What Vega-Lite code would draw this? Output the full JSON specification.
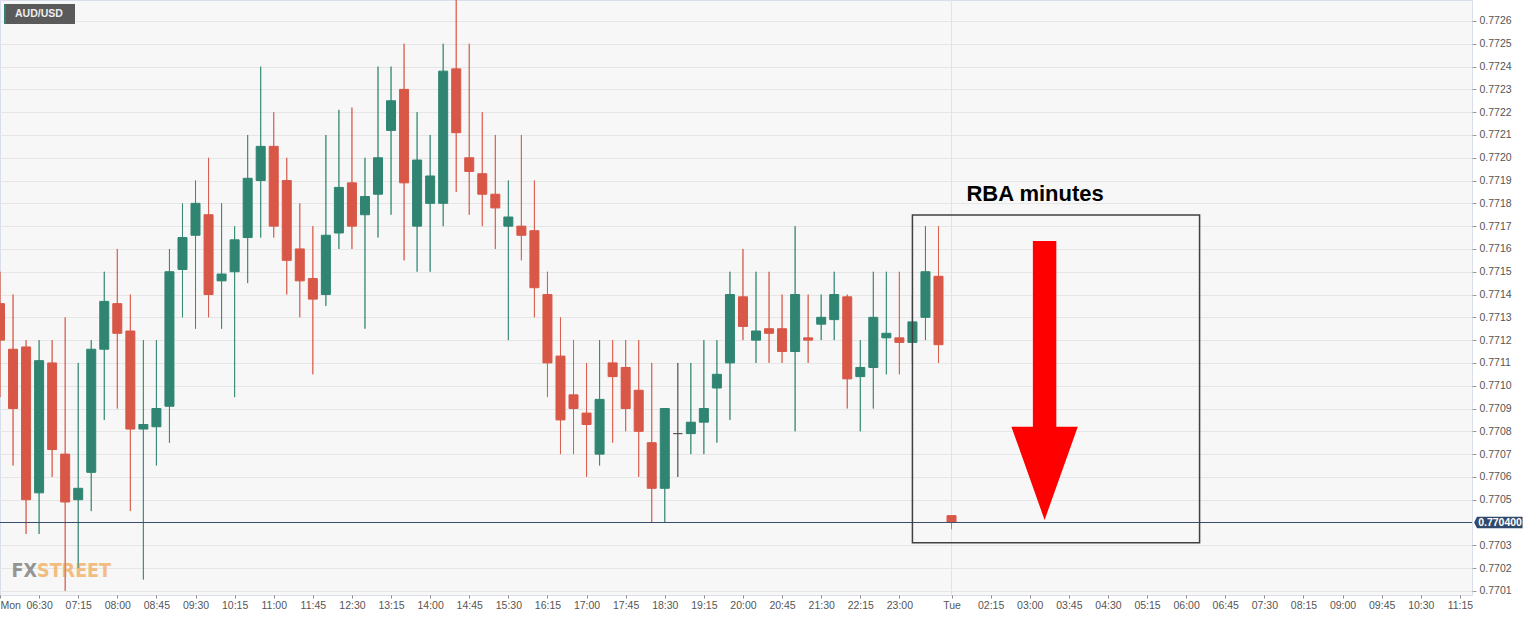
{
  "$schema": "https://vega.github.io/schema/vega-lite/v6.json",
  "width": 1472,
  "height": 595,
  "autosize": {"type": "none"},
  "padding": {"left": 0, "top": 0, "right": 64, "bottom": 23},
  "background": "#ffffff",
  "config": {
    "view": {"fill": "#f7f7f7", "stroke": "#d9dfea", "strokeWidth": 1},
    "font": "Liberation Sans",
    "axis": {"labelOverlap": false},
    "scale": {"continuousPadding": 0}
  },
  "resolve": {"axis": {"x": "independent", "y": "independent"}},
  "datasets": {
    "candles": [
      {"k": 0, "o": 0.77136, "h": 0.77150, "l": 0.77095, "c": 0.77120},
      {"k": 1, "o": 0.77116, "h": 0.77140, "l": 0.77065, "c": 0.77090},
      {"k": 2, "o": 0.77117, "h": 0.77120, "l": 0.77035, "c": 0.77050},
      {"k": 3, "o": 0.77053, "h": 0.77120, "l": 0.77035, "c": 0.77111},
      {"k": 4, "o": 0.77110, "h": 0.77120, "l": 0.77060, "c": 0.77072},
      {"k": 5, "o": 0.77070, "h": 0.77130, "l": 0.77010, "c": 0.77049},
      {"k": 6, "o": 0.77050, "h": 0.77110, "l": 0.77020, "c": 0.77055},
      {"k": 7, "o": 0.77062, "h": 0.77120, "l": 0.77045, "c": 0.77116},
      {"k": 8, "o": 0.77116, "h": 0.77150, "l": 0.77085, "c": 0.77137},
      {"k": 9, "o": 0.77136, "h": 0.77160, "l": 0.77090, "c": 0.77123},
      {"k": 10, "o": 0.77124, "h": 0.77140, "l": 0.77045, "c": 0.77081},
      {"k": 11, "o": 0.77081, "h": 0.77120, "l": 0.77015, "c": 0.77083},
      {"k": 12, "o": 0.77082, "h": 0.77120, "l": 0.77065, "c": 0.77090},
      {"k": 13, "o": 0.77091, "h": 0.77160, "l": 0.77075, "c": 0.77150},
      {"k": 14, "o": 0.77151, "h": 0.77180, "l": 0.77130, "c": 0.77165},
      {"k": 15, "o": 0.77166, "h": 0.77190, "l": 0.77125, "c": 0.77180},
      {"k": 16, "o": 0.77175, "h": 0.77200, "l": 0.77130, "c": 0.77140},
      {"k": 17, "o": 0.77146, "h": 0.77180, "l": 0.77125, "c": 0.77149},
      {"k": 18, "o": 0.77150, "h": 0.77170, "l": 0.77095, "c": 0.77164},
      {"k": 19, "o": 0.77165, "h": 0.77210, "l": 0.77145, "c": 0.77191},
      {"k": 20, "o": 0.77190, "h": 0.77240, "l": 0.77165, "c": 0.77205},
      {"k": 21, "o": 0.77205, "h": 0.77220, "l": 0.77165, "c": 0.77170},
      {"k": 22, "o": 0.77190, "h": 0.77200, "l": 0.77140, "c": 0.77155},
      {"k": 23, "o": 0.77160, "h": 0.77180, "l": 0.77130, "c": 0.77146},
      {"k": 24, "o": 0.77147, "h": 0.77170, "l": 0.77105, "c": 0.77138},
      {"k": 25, "o": 0.77140, "h": 0.77210, "l": 0.77135, "c": 0.77166},
      {"k": 26, "o": 0.77167, "h": 0.77221, "l": 0.77160, "c": 0.77187},
      {"k": 27, "o": 0.77189, "h": 0.77222, "l": 0.77160, "c": 0.77170},
      {"k": 28, "o": 0.77175, "h": 0.77200, "l": 0.77125, "c": 0.77183},
      {"k": 29, "o": 0.77184, "h": 0.77240, "l": 0.77165, "c": 0.77200},
      {"k": 30, "o": 0.77212, "h": 0.77240, "l": 0.77175, "c": 0.77225},
      {"k": 31, "o": 0.77230, "h": 0.77250, "l": 0.77155, "c": 0.77189},
      {"k": 32, "o": 0.77170, "h": 0.77220, "l": 0.77150, "c": 0.77199},
      {"k": 33, "o": 0.77180, "h": 0.77210, "l": 0.77150, "c": 0.77192},
      {"k": 34, "o": 0.77180, "h": 0.77250, "l": 0.77170, "c": 0.77238},
      {"k": 35, "o": 0.77239, "h": 0.77270, "l": 0.77185, "c": 0.77211},
      {"k": 36, "o": 0.77200, "h": 0.77250, "l": 0.77175, "c": 0.77194},
      {"k": 37, "o": 0.77193, "h": 0.77220, "l": 0.77170, "c": 0.77184},
      {"k": 38, "o": 0.77184, "h": 0.77210, "l": 0.77160, "c": 0.77178},
      {"k": 39, "o": 0.77170, "h": 0.77190, "l": 0.77120, "c": 0.77174},
      {"k": 40, "o": 0.77170, "h": 0.77210, "l": 0.77155, "c": 0.77166},
      {"k": 41, "o": 0.77168, "h": 0.77190, "l": 0.77130, "c": 0.77143},
      {"k": 42, "o": 0.77140, "h": 0.77150, "l": 0.77095, "c": 0.77110},
      {"k": 43, "o": 0.77113, "h": 0.77130, "l": 0.77070, "c": 0.77085},
      {"k": 44, "o": 0.77096, "h": 0.77120, "l": 0.77070, "c": 0.77090},
      {"k": 45, "o": 0.77088, "h": 0.77110, "l": 0.77060, "c": 0.77083},
      {"k": 46, "o": 0.77070, "h": 0.77120, "l": 0.77065, "c": 0.77094},
      {"k": 47, "o": 0.77110, "h": 0.77120, "l": 0.77075, "c": 0.77104},
      {"k": 48, "o": 0.77108, "h": 0.77120, "l": 0.77080, "c": 0.77090},
      {"k": 49, "o": 0.77098, "h": 0.77120, "l": 0.77060, "c": 0.77080},
      {"k": 50, "o": 0.77075, "h": 0.77110, "l": 0.77040, "c": 0.77055},
      {"k": 51, "o": 0.77055, "h": 0.77090, "l": 0.77040, "c": 0.77090},
      {"k": 52, "o": 0.77079, "h": 0.77110, "l": 0.77060, "c": 0.77079},
      {"k": 53, "o": 0.77079, "h": 0.77110, "l": 0.77070, "c": 0.77084},
      {"k": 54, "o": 0.77084, "h": 0.77120, "l": 0.77070, "c": 0.77090},
      {"k": 55, "o": 0.77099, "h": 0.77120, "l": 0.77075, "c": 0.77105},
      {"k": 56, "o": 0.77110, "h": 0.77150, "l": 0.77085, "c": 0.77140},
      {"k": 57, "o": 0.77139, "h": 0.77160, "l": 0.77120, "c": 0.77126},
      {"k": 58, "o": 0.77120, "h": 0.77150, "l": 0.77110, "c": 0.77124},
      {"k": 59, "o": 0.77125, "h": 0.77150, "l": 0.77110, "c": 0.77123},
      {"k": 60, "o": 0.77125, "h": 0.77140, "l": 0.77110, "c": 0.77115},
      {"k": 61, "o": 0.77115, "h": 0.77170, "l": 0.77080, "c": 0.77140},
      {"k": 62, "o": 0.77121, "h": 0.77140, "l": 0.77110, "c": 0.77120},
      {"k": 63, "o": 0.77127, "h": 0.77140, "l": 0.77120, "c": 0.77130},
      {"k": 64, "o": 0.77129, "h": 0.77150, "l": 0.77120, "c": 0.77140},
      {"k": 65, "o": 0.77139, "h": 0.77140, "l": 0.77090, "c": 0.77103},
      {"k": 66, "o": 0.77104, "h": 0.77120, "l": 0.77080, "c": 0.77108},
      {"k": 67, "o": 0.77108, "h": 0.77150, "l": 0.77090, "c": 0.77130},
      {"k": 68, "o": 0.77121, "h": 0.77150, "l": 0.77105, "c": 0.77123},
      {"k": 69, "o": 0.77121, "h": 0.77150, "l": 0.77105, "c": 0.77119},
      {"k": 70, "o": 0.77119, "h": 0.77140, "l": 0.77110, "c": 0.77128},
      {"k": 71, "o": 0.77130, "h": 0.77170, "l": 0.77120, "c": 0.77150},
      {"k": 72, "o": 0.77148, "h": 0.77170, "l": 0.77110, "c": 0.77118},
      {"k": 73, "o": 0.77043, "h": 0.77043, "l": 0.77037, "c": 0.77040}
    ],
    "daysep": [{"k": 73}],
    "box": [{"k1": 70.0, "k2": 92.03, "p1": 0.771749, "p2": 0.770311}],
    "arrow": [{"k": 80.14, "p": 0.771023}],
    "note": [{"k": 79.41, "p": 0.771841, "label": "RBA minutes"}],
    "symbolbox": [
      {"k1": 0.307, "k2": 5.754, "p1": 0.772675, "p2": 0.772587, "part": "box"},
      {"k1": 0.307, "k2": 0.46, "p1": 0.772675, "p2": 0.772587, "part": "stripe"}
    ],
    "symbol": [{"k": 1.15, "p": 0.772631, "label": "AUD/USD"}],
    "wm": [
      {"k": 2.84, "p": 0.770161, "label": "FX", "part": "fx"},
      {"k": 2.84, "p": 0.770161, "label": "STREET", "part": "street"}
    ],
    "lastprice": [{"k": 114.95, "kt": 115.08, "p": 0.7704, "label": "0.770400"}]
  },
  "layer": [
    {
      "data": {"name": "candles"},
      "mark": {"type": "rule", "strokeWidth": 1, "opacity": 0.8},
      "encoding": {
        "x": {
          "field": "k", "type": "quantitative",
          "scale": {"domain": [0, 112.93], "nice": false, "zero": false, "padding": 0},
          "axis": {
            "values": [0, 3, 6, 9, 12, 15, 18, 21, 24, 27, 30, 33, 36, 39, 42, 45, 48, 51, 54, 57, 60, 63, 66, 69, 73, 76, 79, 82, 85, 88, 91, 94, 97, 100, 103, 106, 109, 112],
            "labelExpr": "datum.value == 0 ? 'Mon' : datum.value == 73 ? 'Tue' : timeFormat(datetime(2021, 0, 4, 0, datum.value < 73 ? 345 + 15 * datum.value : 15 * datum.value - 1005), '%H:%M')",
            "labelAlign": {"condition": {"test": "datum.value == 0", "value": "left"}, "value": "center"},
            "labelFlush": false,
            "labelOverlap": false,
            "labelBound": false,
            "grid": false,
            "domain": false,
            "tickSize": 3,
            "tickColor": "#888888",
            "labelColor": "#555555",
            "labelFontSize": 10.5,
            "labelPadding": 2,
            "title": null
          }
        },
        "y": {
          "field": "l", "type": "quantitative",
          "scale": {"domain": [0.770082, 0.772692], "nice": false, "zero": false, "padding": 0},
          "axis": {
            "orient": "right",
            "values": [0.7701, 0.7702, 0.7703, 0.7705, 0.7706, 0.7707, 0.7708, 0.7709, 0.7710, 0.7711, 0.7712, 0.7713, 0.7714, 0.7715, 0.7716, 0.7717, 0.7718, 0.7719, 0.7720, 0.7721, 0.7722, 0.7723, 0.7724, 0.7725, 0.7726],
            "format": ".4f",
            "grid": true,
            "gridColor": "#e6e6e6",
            "gridWidth": 1,
            "domain": false,
            "tickSize": 4,
            "tickColor": "#9a9a9a",
            "labelColor": "#555555",
            "labelFontSize": 10.5,
            "labelPadding": 3,
            "labelOverlap": false,
            "labelBound": false,
            "title": null
          }
        },
        "y2": {"field": "h"},
        "color": {
          "condition": [
            {"test": "datum.c > datum.o", "value": "#2f8571"},
            {"test": "datum.c < datum.o", "value": "#d85747"}
          ],
          "value": "#555555"
        }
      }
    },
    {
      "data": {"name": "daysep"},
      "mark": {"type": "rule", "color": "#e3e3e3", "strokeWidth": 1},
      "encoding": {
        "x": {"field": "k", "type": "quantitative", "scale": {"domain": [0, 112.93], "nice": false, "zero": false, "padding": 0}, "axis": null}
      }
    },
    {
      "data": {"name": "wm"},
      "transform": [{"filter": "datum.part == 'fx'"}],
      "mark": {"type": "text", "align": "right", "baseline": "alphabetic", "font": "DejaVu Sans Condensed, Liberation Sans Narrow, Liberation Sans", "fontWeight": "bold", "fontSize": 19.5, "color": "#8a8a8a", "opacity": 0.9},
      "encoding": {
        "x": {"field": "k", "type": "quantitative", "scale": {"domain": [0, 112.93], "nice": false, "zero": false, "padding": 0}, "axis": null},
        "y": {"field": "p", "type": "quantitative", "scale": {"domain": [0.770082, 0.772692], "nice": false, "zero": false, "padding": 0}, "axis": null},
        "text": {"field": "label"}
      }
    },
    {
      "data": {"name": "wm"},
      "transform": [{"filter": "datum.part == 'street'"}],
      "mark": {"type": "text", "align": "left", "baseline": "alphabetic", "font": "DejaVu Sans Condensed, Liberation Sans Narrow, Liberation Sans", "fontWeight": "bold", "fontSize": 19.5, "color": "#f0b36c", "opacity": 0.85},
      "encoding": {
        "x": {"field": "k", "type": "quantitative", "scale": {"domain": [0, 112.93], "nice": false, "zero": false, "padding": 0}, "axis": null},
        "y": {"field": "p", "type": "quantitative", "scale": {"domain": [0.770082, 0.772692], "nice": false, "zero": false, "padding": 0}, "axis": null},
        "text": {"field": "label"}
      }
    },
    {
      "data": {"name": "candles"},
      "mark": {"type": "rule", "strokeWidth": 1, "opacity": 0.8},
      "encoding": {
        "x": {"field": "k", "type": "quantitative", "scale": {"domain": [0, 112.93], "nice": false, "zero": false, "padding": 0}, "axis": null},
        "y": {"field": "l", "type": "quantitative", "scale": {"domain": [0.770082, 0.772692], "nice": false, "zero": false, "padding": 0}, "axis": null},
        "y2": {"field": "h"},
        "color": {
          "condition": [
            {"test": "datum.c > datum.o", "value": "#2f8571"},
            {"test": "datum.c < datum.o", "value": "#d85747"}
          ],
          "value": "#555555"
        }
      }
    },
    {
      "data": {"name": "candles"},
      "mark": {"type": "bar", "size": 9, "strokeWidth": 1},
      "encoding": {
        "x": {"field": "k", "type": "quantitative", "scale": {"domain": [0, 112.93], "nice": false, "zero": false, "padding": 0}, "axis": null},
        "y": {"field": "o", "type": "quantitative", "scale": {"domain": [0.770082, 0.772692], "nice": false, "zero": false, "padding": 0}, "axis": null},
        "y2": {"field": "c"},
        "fill": {
          "condition": [
            {"test": "datum.c > datum.o", "value": "#2f8571"},
            {"test": "datum.c < datum.o", "value": "#d85747"}
          ],
          "value": "#555555"
        },
        "stroke": {
          "condition": [
            {"test": "datum.c > datum.o", "value": "#2f8571"},
            {"test": "datum.c < datum.o", "value": "#d85747"}
          ],
          "value": "#555555"
        }
      }
    },
    {
      "data": {"name": "lastprice"},
      "mark": {"type": "rule", "color": "#3a4e6c", "strokeWidth": 1},
      "encoding": {
        "y": {"field": "p", "type": "quantitative", "scale": {"domain": [0.770082, 0.772692], "nice": false, "zero": false, "padding": 0}, "axis": null}
      }
    },
    {
      "data": {"name": "box"},
      "mark": {"type": "rect", "fillOpacity": 0, "stroke": "#404040", "strokeWidth": 1.5},
      "encoding": {
        "x": {"field": "k1", "type": "quantitative", "scale": {"domain": [0, 112.93], "nice": false, "zero": false, "padding": 0}, "axis": null},
        "x2": {"field": "k2"},
        "y": {"field": "p1", "type": "quantitative", "scale": {"domain": [0.770082, 0.772692], "nice": false, "zero": false, "padding": 0}, "axis": null},
        "y2": {"field": "p2"}
      }
    },
    {
      "data": {"name": "arrow"},
      "mark": {"type": "point", "shape": "M-0.084,-1 L0.084,-1 L0.084,0.331 L0.238,0.331 L0,1 L-0.238,0.331 L-0.084,0.331 Z", "size": 77841, "filled": true, "color": "#ff0000", "opacity": 1, "strokeWidth": 0},
      "encoding": {
        "x": {"field": "k", "type": "quantitative", "scale": {"domain": [0, 112.93], "nice": false, "zero": false, "padding": 0}, "axis": null},
        "y": {"field": "p", "type": "quantitative", "scale": {"domain": [0.770082, 0.772692], "nice": false, "zero": false, "padding": 0}, "axis": null}
      }
    },
    {
      "data": {"name": "note"},
      "mark": {"type": "text", "align": "center", "baseline": "middle", "font": "Liberation Sans", "fontWeight": "bold", "fontSize": 22, "color": "#000000"},
      "encoding": {
        "x": {"field": "k", "type": "quantitative", "scale": {"domain": [0, 112.93], "nice": false, "zero": false, "padding": 0}, "axis": null},
        "y": {"field": "p", "type": "quantitative", "scale": {"domain": [0.770082, 0.772692], "nice": false, "zero": false, "padding": 0}, "axis": null},
        "text": {"field": "label"}
      }
    },
    {
      "data": {"name": "symbolbox"},
      "mark": {"type": "rect", "strokeWidth": 0},
      "encoding": {
        "x": {"field": "k1", "type": "quantitative", "scale": {"domain": [0, 112.93], "nice": false, "zero": false, "padding": 0}, "axis": null},
        "x2": {"field": "k2"},
        "y": {"field": "p1", "type": "quantitative", "scale": {"domain": [0.770082, 0.772692], "nice": false, "zero": false, "padding": 0}, "axis": null},
        "y2": {"field": "p2"},
        "fill": {"condition": {"test": "datum.part == 'stripe'", "value": "#2f8571"}, "value": "#5a5a5a"}
      }
    },
    {
      "data": {"name": "symbol"},
      "mark": {"type": "text", "align": "left", "baseline": "middle", "font": "Liberation Sans", "fontWeight": "bold", "fontSize": 10.5, "color": "#eeeeee"},
      "encoding": {
        "x": {"field": "k", "type": "quantitative", "scale": {"domain": [0, 112.93], "nice": false, "zero": false, "padding": 0}, "axis": null},
        "y": {"field": "p", "type": "quantitative", "scale": {"domain": [0.770082, 0.772692], "nice": false, "zero": false, "padding": 0}, "axis": null},
        "text": {"field": "label"}
      }
    },
    {
      "data": {"name": "lastprice"},
      "mark": {"type": "point", "shape": "M-1,0 L-0.88,-0.24 L1,-0.24 L1,0.24 L-0.88,0.24 Z", "size": 2343, "filled": true, "color": "#2f4a6b", "opacity": 1, "strokeWidth": 0},
      "encoding": {
        "x": {"field": "k", "type": "quantitative", "scale": {"domain": [0, 112.93], "nice": false, "zero": false, "padding": 0}, "axis": null},
        "y": {"field": "p", "type": "quantitative", "scale": {"domain": [0.770082, 0.772692], "nice": false, "zero": false, "padding": 0}, "axis": null}
      }
    },
    {
      "data": {"name": "lastprice"},
      "mark": {"type": "text", "align": "center", "baseline": "middle", "font": "Liberation Sans", "fontWeight": "bold", "fontSize": 10.5, "color": "#ffffff"},
      "encoding": {
        "x": {"field": "kt", "type": "quantitative", "scale": {"domain": [0, 112.93], "nice": false, "zero": false, "padding": 0}, "axis": null},
        "y": {"field": "p", "type": "quantitative", "scale": {"domain": [0.770082, 0.772692], "nice": false, "zero": false, "padding": 0}, "axis": null},
        "text": {"field": "label"}
      }
    }
  ]
}
